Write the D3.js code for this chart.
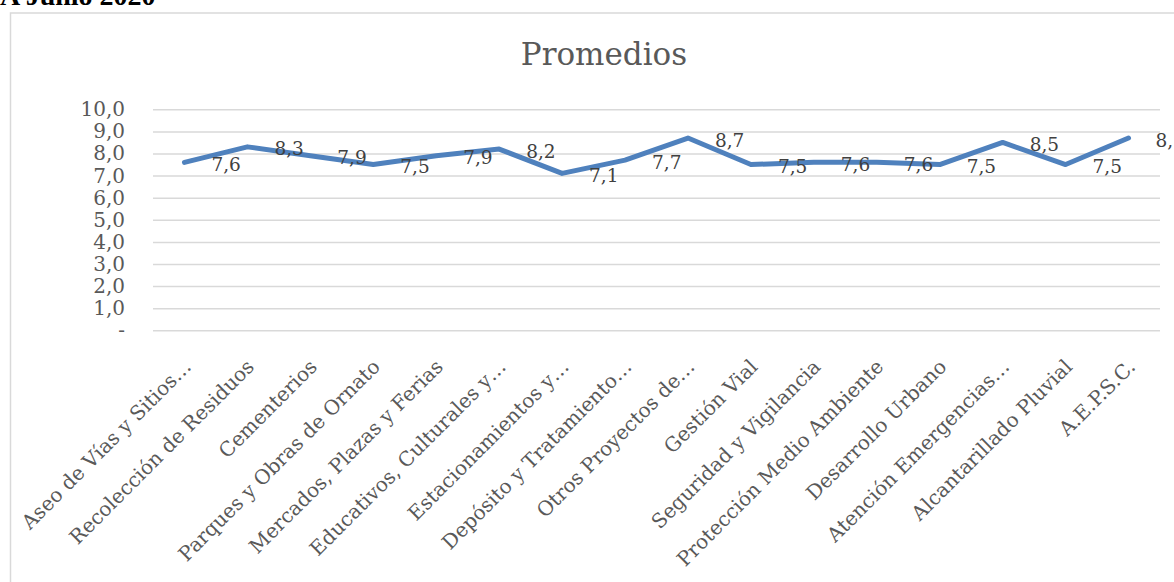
<!DOCTYPE html>
<html>
<head>
<meta charset="utf-8">
<script src="https://cdn.jsdelivr.net/npm/d3@7"></script>
<style>
	body { margin: 0; background: #fff; }
	svg { display: block; }
	.tick text { font-family: "DejaVu Serif", serif; fill: #595959; }
</style>
</head>
<body>
<div class="chart"></div>
<script>

var categories = [
	'Aseo de Vías y Sitios…', 'Recolección de Residuos', 'Cementerios',
	'Parques y Obras de Ornato', 'Mercados, Plazas y Ferias', 'Educativos, Culturales y…',
	'Estacionamientos y…', 'Depósito y Tratamiento…', 'Otros Proyectos de…',
	'Gestión Vial', 'Seguridad y Vigilancia', 'Protección Medio Ambiente',
	'Desarrollo Urbano', 'Atención Emergencias…', 'Alcantarillado Pluvial', 'A.E.P.S.C.'
];
var promedios = [7.6, 8.3, 7.9, 7.5, 7.9, 8.2, 7.1, 7.7, 8.7, 7.5, 7.6, 7.6, 7.5, 8.5, 7.5, 8.7];
var yTicks = [0, 1, 2, 3, 4, 5, 6, 7, 8, 9, 10];
var chartTitle = 'Promedios';
var pageTitle = 'A Junio 2020';

var promediosChart = (function() {

	var width = 1174, height = 582;

	var init = function() {
		var svg = d3.select('.chart')
					.append('svg')
					.attr('width', width)
					.attr('height', height)

		drawFrame(svg)
		drawAxes(svg)
		drawLine(svg)
	}

	var x = d3.scaleBand().domain(categories).range([153, 1160]);
	var y = d3.scaleLinear().domain([0, 10]).range([330.3, 109.3]);

	var fmt = function(d) {
		if (d === 0) return '-';
		return d3.format('.1f')(d).replace('.', ',');
	}

	var drawFrame = function(svg) {
		// outer chart box, clipped at right and bottom like the page capture
		svg.append('rect')
			.attr('x', 10.5).attr('y', 13)
			.attr('width', 1300).attr('height', 700)
			.attr('fill', 'none')
			.attr('stroke', '#d9d9d9')
			.attr('stroke-width', 1.5)

		svg.append('text')
			.attr('x', 0).attr('y', 5)
			.attr('font-family', '"Liberation Serif", serif')
			.attr('font-weight', 'bold')
			.attr('font-size', 28)
			.attr('fill', '#000')
			.text(pageTitle)

		svg.append('text')
			.attr('x', 604).attr('y', 65)
			.attr('text-anchor', 'middle')
			.attr('font-family', '"DejaVu Serif", serif')
			.attr('font-size', 31)
			.attr('fill', '#595959')
			.text(chartTitle)
	}

	var drawAxes = function(svg) {
		var yAxis = d3.axisLeft(y)
						.tickValues(yTicks)
						.tickFormat(fmt)
						.tickSize(-(1160 - 153))
						.tickPadding(28)

		var gy = svg.append('g')
					.attr('transform', 'translate(153,0)')
					.call(yAxis)

		gy.select('.domain').remove()
		gy.selectAll('.tick line')
			.attr('stroke', '#d9d9d9')
			.attr('stroke-width', 1.5)
		gy.selectAll('.tick text')
			.attr('font-size', 20)

		var xAxis = d3.axisBottom(x).tickSize(0).tickPadding(0)

		var gx = svg.append('g')
					.attr('transform', 'translate(0,330)')
					.call(xAxis)

		gx.select('.domain').remove()
		gx.selectAll('.tick text')
			.attr('font-size', 20)
			.attr('text-anchor', 'end')
			.attr('dy', '0.35em')
			.attr('transform', 'translate(3,33) rotate(-45)')
	}

	var drawLine = function(svg) {
		var line = d3.line()
					.x(function(d, i) { return x(categories[i]) + x.bandwidth() / 2; })
					.y(function(d) { return y(d); })

		svg.append('path')
			.datum(promedios)
			.attr('d', line)
			.attr('fill', 'none')
			.attr('stroke', '#4f81bd')
			.attr('stroke-width', 5)
			.attr('stroke-linecap', 'round')
			.attr('stroke-linejoin', 'round')

		svg.selectAll('text.lbl')
			.data(promedios)
			.enter()
				.append('text')
				.attr('class', 'lbl')
				.attr('x', function(d, i) { return x(categories[i]) + x.bandwidth() / 2 + 27; })
				.attr('y', function(d) { return y(d) + 2; })
				.attr('dy', '0.35em')
				.attr('font-family', '"DejaVu Serif", serif')
				.attr('font-size', 18.5)
				.attr('fill', '#404040')
				.text(function(d) { return fmt(d); })
	}

	return {
		'init': init
	}

})();

promediosChart.init();
</script>
</body>
</html>
